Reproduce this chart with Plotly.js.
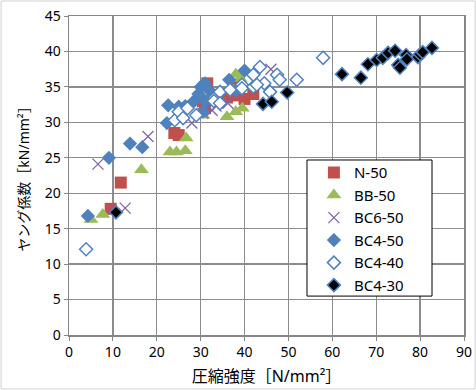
<!DOCTYPE html>
<html>
<head>
<meta charset="utf-8">
<script src="https://cdn.plot.ly/plotly-3.0.1.min.js"></script>
<style>html,body{margin:0;padding:0;background:#fff;}#chart{width:476px;height:390px;}</style>
</head>
<body>
<div id="chart"></div>
<script>
const seriesNames = ["N-50", "BB-50", "BC6-50", "BC4-50", "BC4-40", "BC4-30"];

const n50_x = [9.5, 11.8, 24, 25, 31.5, 30.5, 31, 36, 38.5, 40, 42, 38];
const n50_y = [17.8, 21.5, 28.5, 28.2, 35.5, 33, 32, 33.5, 33.8, 33.3, 34, 35];

const bb50_x = [5, 7.7, 16.5, 23, 24.5, 26.5, 26.7, 30.5, 36, 38, 39.5, 39, 38, 37.5];
const bb50_y = [16.3, 17, 23.3, 25.8, 25.8, 26, 27.8, 31, 30.8, 31.5, 32, 36.2, 36.8, 34.5];

const bc650_x = [6.6, 12.8, 18, 28, 30.5, 32.6, 33.5, 36.2, 46];
const bc650_y = [24.1, 17.9, 28, 29.9, 31.3, 31.7, 32.3, 32.7, 37.5];

const bc450_x = [4.3, 9.1, 13.9, 16.7, 22.3, 22.6, 25, 26.5, 28.5, 29.5, 30, 31, 31.2, 32, 30.5, 36.5, 40, 38];
const bc450_y = [16.8, 25, 27, 26.5, 29.9, 32.4, 32.2, 32.3, 33, 34, 35, 35.5, 33, 34.5, 31.5, 36, 37.3, 34.5];

const bc440_x = [3.9, 24.1, 25, 26, 27, 29, 33, 34.4, 34.4, 36.7, 39.4, 39.4, 42, 42, 43.5, 44.5, 45.8, 47.4, 48, 51.9, 57.9, 42.8];
const bc440_y = [12.1, 30.3, 31.5, 30.6, 32, 31, 33, 34.3, 32.7, 34.6, 35.3, 34.8, 35, 36.7, 37.8, 35.5, 34.3, 36.7, 36, 36, 39.1, 35.3];

const bc430_x = [10.7, 44.2, 46.2, 49.7, 62.2, 66.5, 68.1, 70.1, 71.5, 72.7, 74.3, 75, 75.4, 76.8, 77, 79.5, 80, 80.6, 82.7];
const bc430_y = [17.3, 32.6, 32.9, 34.2, 36.8, 36.3, 38.2, 38.8, 39.1, 39.8, 40.1, 38.1, 37.7, 39.5, 38.9, 39.2, 39.6, 39.9, 40.5];

const xTicks = [0, 10, 20, 30, 40, 50, 60, 70, 80, 90];
const yTicks = [0, 5, 10, 15, 20, 25, 30, 35, 40, 45];

const xTitle = "圧縮強度［N/mm²］";
const yTitle = "ヤング係数［kN/mm²］";

const blue = "#4F81BD";
function tr(name, xs, ys, marker) {
  return {type: "scatter", mode: "markers", name: name, x: xs, y: ys, marker: marker,
          legendgroup: name, cliponaxis: false};
}
const data = [
  tr(seriesNames[0], n50_x, n50_y, {symbol: "square", size: 12, color: "#C0504D"}),
  tr(seriesNames[1], bb50_x, bb50_y, {symbol: "triangle-up", size: 13, color: "#9BBB59"}),
  tr(seriesNames[2], bc650_x, bc650_y, {symbol: "x-thin-open", size: 11, color: "#8064A2", line: {width: 1.3, color: "#8064A2"}}),
  tr(seriesNames[3], bc450_x, bc450_y, {symbol: "diamond", size: 11, color: blue}),
  tr(seriesNames[4], bc440_x, bc440_y, {symbol: "diamond", size: 10, color: "#ffffff", line: {width: 1.5, color: blue}}),
  tr(seriesNames[5], bc430_x, bc430_y, {symbol: "diamond", size: 10, color: "#000000", line: {width: 1.5, color: blue}})
];

const font = "Noto Sans, Noto Sans CJK JP, sans-serif";
const layout = {
  width: 476, height: 390,
  margin: {l: 69, r: 12, t: 16, b: 55},
  paper_bgcolor: "#ffffff", plot_bgcolor: "#ffffff",
  font: {family: font, size: 14, color: "#000"},
  showlegend: true,
  legend: {
    x: 0.62, y: 0.56, xanchor: "left", yanchor: "top",
    bgcolor: "rgba(0,0,0,0)", borderwidth: 0,
    font: {family: font, size: 15, color: "#000"},
    traceorder: "grouped", tracegroupgap: 0,
    itemwidth: 30
  },
  xaxis: {
    range: [0, 90], tickvals: xTicks, ticktext: xTicks.map(String),
    showgrid: true, gridcolor: "#8c8c8c", gridwidth: 1.3,
    showline: true, linecolor: "#868686", linewidth: 1.5, mirror: true,
    ticks: "outside", ticklen: 4, tickcolor: "#868686",
    zeroline: false, tickfont: {size: 14},
    title: {text: xTitle, font: {size: 16, family: font}, standoff: 10}
  },
  yaxis: {
    range: [0, 45], tickvals: yTicks, ticktext: yTicks.map(String),
    showgrid: true, gridcolor: "#8c8c8c", gridwidth: 1.3,
    showline: true, linecolor: "#868686", linewidth: 1.5, mirror: true,
    ticks: "outside", ticklen: 4, tickcolor: "#868686",
    zeroline: false, tickfont: {size: 14},
    title: {text: yTitle, font: {size: 14, family: font}, standoff: 12}
  },
  shapes: [
    {
      type: "rect", xref: "paper", yref: "paper", layer: "below",
      x0: -0.172, x1: 1.028, y0: -0.169, y1: 1.047,
      line: {color: "#d0d0d0", width: 1}
    },
    {
      type: "rect", xref: "paper", yref: "paper", layer: "above",
      x0: 0.6025, x1: 0.919, y0: 0.122, y1: 0.5486,
      fillcolor: "#ffffff", line: {color: "#000000", width: 1}
    }
  ]
};
Plotly.newPlot("chart", data, layout, {staticPlot: true});
</script>
</body>
</html>
